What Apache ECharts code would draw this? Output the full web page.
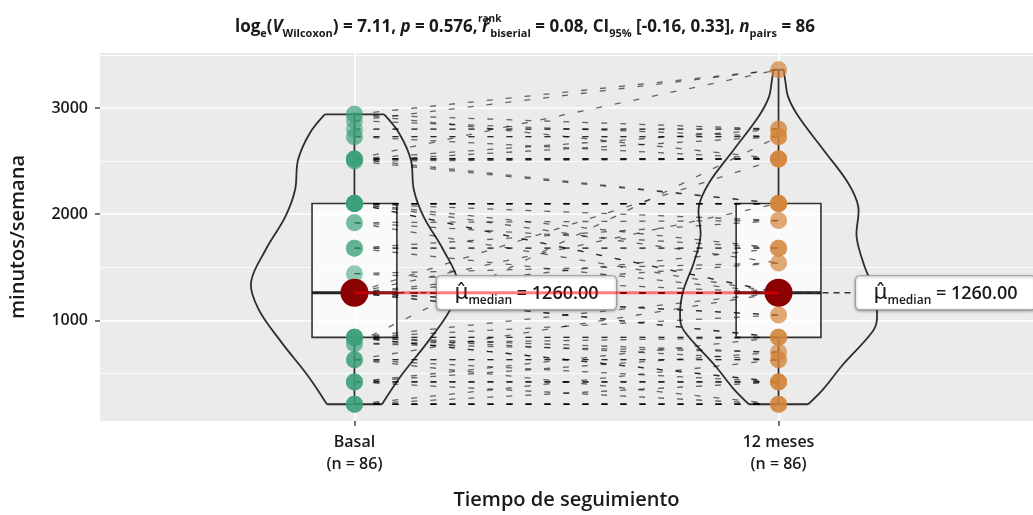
<!DOCTYPE html>
<html>
<head>
<meta charset="utf-8">
<script src="https://cdn.jsdelivr.net/npm/echarts@6/dist/echarts.min.js"></script>
<style>
html, body { margin: 0; padding: 0; background: #fff; }
#chart { width: 1033px; height: 515px; }
</style>
</head>
<body>
<div id="chart"></div>
<script>
var groups = ['Basal', '12 meses'];
var groupN = [86, 86];

// paired observations (minutos/semana), same order in both arrays
var basal = [
    210, 210, 210, 210, 210, 210,
    420, 420, 420, 420, 420, 420,
    630, 630, 630, 630, 630,
    780, 780, 780,
    840, 840, 840, 840, 840, 840, 840, 840,
    1260, 1260, 1260, 1260, 1260, 1260, 1260, 1260, 1260, 1260, 1260, 1260, 1260, 1260, 1260, 1260, 1260,
    1440, 1440,
    1680, 1680, 1680, 1680,
    1920, 1920, 1920,
    2100, 2100, 2100, 2100, 2100, 2100, 2100, 2100, 2100, 2100, 2100, 2100,
    2500, 2500, 2500,
    2520, 2520, 2520, 2520, 2520, 2520, 2520,
    2730, 2730, 2730,
    2800, 2800,
    2880, 2880,
    2940, 2940, 2940
];
var meses12 = [
    210, 210, 210, 210, 420, 630,
    420, 420, 420, 210, 700, 840,
    630, 630, 420, 1260, 210,
    700, 2730, 840,
    840, 840, 420, 420, 700, 1050, 630, 1260,
    1260, 1260, 1260, 1260, 1260, 1260, 1260, 1260, 1260, 840, 840, 1050, 1050, 1540, 1680, 2100, 2520,
    1260, 1540,
    1680, 1680, 1260, 1940,
    1940, 1260, 1680,
    2100, 2100, 2100, 2100, 2100, 2100, 2100, 1260, 1260, 1540, 1680, 1940,
    2520, 2100, 2730,
    2520, 2520, 2520, 2520, 2100, 3360, 2800,
    2730, 2730, 2520,
    2800, 2800,
    3360, 2730,
    2800, 3360, 2520
];

// violin outlines: [value, half width in x units]
var violinBasal = [
    [2940, 0.070], [2765, 0.105], [2512, 0.133], [2230, 0.140], [1977, 0.163],
    [1667, 0.209], [1357, 0.244], [1103, 0.226], [793, 0.172], [474, 0.109], [210, 0.065]
];
var violin12 = [
    [3360, 0.012], [3250, 0.016], [3100, 0.023], [2920, 0.047], [2600, 0.107],
    [2300, 0.163], [2070, 0.188], [1790, 0.184], [1540, 0.200], [1260, 0.226],
    [1010, 0.232], [890, 0.221], [570, 0.149], [350, 0.105], [210, 0.070]
];

var yTicks = [1000, 2000, 3000];
var yMinor = [500, 1500, 2500, 3500];
var xTicks = [1, 2];

var FONT = 'Open Sans';
var INK = '#1a1a1a';
var chart = echarts.init(document.getElementById('chart'));

function quantile(arr, p) {
    var s = arr.slice().sort(function(a, b) { return a - b; });
    var h = (s.length - 1) * p;
    var lo = Math.floor(h);
    var hi = Math.min(lo + 1, s.length - 1);
    return s[lo] + (h - lo) * (s[hi] - s[lo]);
}

function boxStats(arr) {
    var q1 = quantile(arr, 0.25), md = quantile(arr, 0.5), q3 = quantile(arr, 0.75);
    var iqr = q3 - q1;
    var lo = Math.min.apply(null, arr.filter(function(v) { return v >= q1 - 1.5 * iqr; }));
    var hi = Math.max.apply(null, arr.filter(function(v) { return v <= q3 + 1.5 * iqr; }));
    return [lo, q1, md, q3, hi];
}

var samples = [basal, meses12];
var violins = [violinBasal, violin12];
var stats = samples.map(boxStats);
var boxData = stats.map(function(s, i) { return [i + 1].concat(s); });
var medianData = stats.map(function(s, i) { return [i + 1, s[2]]; });
var pairData = basal.map(function(b, i) { return [1, b, 2, meses12[i]]; });

var lineSt = { stroke: '#2e2e2e', lineWidth: 1.8, fill: null };

function renderBox(params, api) {
    var x = api.value(0);
    var hw = 0.1;
    var pLo = api.coord([x, api.value(1)]);
    var pQ1 = api.coord([x - hw, api.value(2)]);
    var pMd = api.coord([x, api.value(3)]);
    var pQ3 = api.coord([x + hw, api.value(4)]);
    var pHi = api.coord([x, api.value(5)]);
    return {
        type: 'group',
        children: [
            { type: 'rect', shape: { x: pQ1[0], y: pQ3[1], width: pQ3[0] - pQ1[0], height: pQ1[1] - pQ3[1] },
              style: { fill: 'rgba(255,255,255,0.72)', stroke: '#333', lineWidth: 1.6 } },
            { type: 'line', shape: { x1: pLo[0], y1: pLo[1], x2: pLo[0], y2: pQ1[1] }, style: lineSt },
            { type: 'line', shape: { x1: pHi[0], y1: pHi[1], x2: pHi[0], y2: pQ3[1] }, style: lineSt },
            { type: 'line', shape: { x1: pQ1[0], y1: pMd[1], x2: pQ3[0], y2: pMd[1] }, style: { stroke: '#222', lineWidth: 3 } }
        ]
    };
}

function renderViolin(params, api) {
    var prof = violins[params.dataIndex];
    var cx = api.value(0);
    var left = prof.map(function(p) { return api.coord([cx - p[1], p[0]]); });
    var right = prof.map(function(p) { return api.coord([cx + p[1], p[0]]); });
    var n = prof.length - 1;
    return {
        type: 'group',
        children: [
            { type: 'polyline', shape: { points: left, smooth: 0.35 }, style: lineSt },
            { type: 'polyline', shape: { points: right, smooth: 0.35 }, style: lineSt },
            { type: 'line', shape: { x1: left[0][0], y1: left[0][1], x2: right[0][0], y2: right[0][1] }, style: lineSt },
            { type: 'line', shape: { x1: left[n][0], y1: left[n][1], x2: right[n][0], y2: right[n][1] }, style: lineSt }
        ]
    };
}

function renderPair(params, api) {
    var a = api.coord([api.value(0), api.value(1)]);
    var b = api.coord([api.value(2), api.value(3)]);
    return {
        type: 'line',
        shape: { x1: a[0], y1: a[1], x2: b[0], y2: b[1] },
        style: { stroke: 'rgba(0,0,0,0.58)', lineWidth: 1.3, lineDash: [6, 13] }
    };
}

var labelDx = [172, 167];
function renderLabel(params, api) {
    var i = params.dataIndex;
    var c = api.coord([api.value(0), api.value(1)]);
    var cx = c[0] + labelDx[i], cy = c[1];
    var w = 180, h = 34;
    return {
        type: 'group',
        children: [
            { type: 'line', shape: { x1: c[0], y1: cy, x2: cx - w / 2, y2: cy },
              style: { stroke: '#333', lineWidth: 1.5, lineDash: [6, 5] } },
            { type: 'rect', shape: { x: cx - w / 2, y: cy - h / 2, width: w, height: h, r: 4 },
              style: { fill: '#fff', stroke: '#9a9a9a', lineWidth: 1, shadowBlur: 3, shadowOffsetY: 1, shadowColor: 'rgba(0,0,0,0.35)' } },
            { type: 'text', x: cx, y: cy + 1,
              style: {
                  text: '{mu|\u03bc\u0302}{sub|median}{eq| = ' + api.value(1).toFixed(2) + '}',
                  align: 'center', verticalAlign: 'middle',
                  rich: {
                      mu: { fontFamily: 'DejaVu Sans', fontSize: 22, fill: INK, lineHeight: 26 },
                      sub: { fontFamily: FONT, fontSize: 12, fontWeight: 600, fill: INK, lineHeight: 12, verticalAlign: 'bottom' },
                      eq: { fontFamily: FONT, fontSize: 18, fontWeight: 600, fill: INK, lineHeight: 26 }
                  }
              } }
        ]
    };
}

var gridLines = [];
yTicks.forEach(function(v) { gridLines.push({ yAxis: v, lineStyle: { color: '#fff', width: 1.6, type: 'solid' } }); });
yMinor.forEach(function(v) { gridLines.push({ yAxis: v, lineStyle: { color: '#fff', width: 0.8, type: 'solid' } }); });
xTicks.forEach(function(v) { gridLines.push({ xAxis: v, lineStyle: { color: '#fff', width: 1.6, type: 'solid' } }); });

var titleText = '{n|log}{sub|e}{n|(}{i|V}{sub|Wilcoxon}{n|) = 7.11, }{i|p}{n| = 0.576, }' +
    '{i|r\u0302}{sup|rank}{sub|biserial}{n| = 0.08, CI}{sub|95%}{n| [-0.16, 0.33], }{i|n}{sub|pairs}{n| = 86}';

var option = {
    animation: false,
    textStyle: { fontFamily: FONT },
    grid: { left: 100, right: -12, top: 53, bottom: 94, show: true, backgroundColor: '#EBEBEB', borderWidth: 0 },
    graphic: [{
        type: 'text', x: 525, y: 27,
        style: {
            text: titleText, align: 'center', verticalAlign: 'middle',
            rich: {
                n: { fontFamily: FONT, fontSize: 17, fontWeight: 'bold', fill: INK, lineHeight: 25 },
                i: { fontFamily: FONT, fontSize: 17, fontWeight: 'bold', fontStyle: 'italic', fill: INK, lineHeight: 25 },
                sub: { fontFamily: FONT, fontSize: 11, fontWeight: 'bold', fill: INK, lineHeight: 11, verticalAlign: 'bottom' },
                sup: { fontFamily: FONT, fontSize: 10, fontWeight: 'bold', fill: INK, lineHeight: 10, verticalAlign: 'top', width: 1 }
            }
        }
    }],
    xAxis: {
        type: 'value', min: 0.4, max: 2.6,
        axisLine: { show: false },
        splitLine: { show: false },
        axisTick: { show: true, customValues: xTicks, length: 5, lineStyle: { color: '#444', width: 1.5 } },
        axisLabel: {
            customValues: xTicks, margin: 10, fontSize: 16, fontWeight: 600, color: INK, lineHeight: 22,
            formatter: function(v) { return groups[v - 1] + '\n(n = ' + groupN[v - 1] + ')'; }
        },
        name: 'Tiempo de seguimiento', nameLocation: 'middle', nameGap: 69,
        nameTextStyle: { fontSize: 20, fontWeight: 600, color: INK }
    },
    yAxis: {
        type: 'value', min: 52.5, max: 3517.5,
        axisLine: { show: false },
        splitLine: { show: false },
        axisTick: { show: true, customValues: yTicks, length: 5, lineStyle: { color: '#444', width: 1.5 } },
        axisLabel: {
            customValues: yTicks, margin: 12, fontSize: 16, fontWeight: 600, color: INK,
            formatter: function(v) { return String(v); }
        },
        name: 'minutos/semana', nameLocation: 'middle', nameGap: 72, nameRotate: 90,
        nameTextStyle: { fontSize: 20, fontWeight: 600, color: INK }
    },
    series: [
        {
            type: 'custom', name: 'box', renderItem: renderBox, data: boxData,
            encode: { x: 0, y: [1, 2, 3, 4, 5] }, silent: true,
            markLine: { silent: true, symbol: 'none', label: { show: false }, data: gridLines, z: 0 }
        },
        {
            type: 'custom', name: 'violin', renderItem: renderViolin, data: [[1], [2]],
            encode: { x: 0 }, silent: true
        },
        {
            type: 'scatter', name: groups[0], symbolSize: 17,
            data: basal.map(function(v) { return [1, v]; }),
            itemStyle: { color: 'rgba(60,160,120,0.33)', opacity: 1 }
        },
        {
            type: 'scatter', name: groups[1], symbolSize: 17,
            data: meses12.map(function(v) { return [2, v]; }),
            itemStyle: { color: 'rgba(214,134,60,0.33)', opacity: 1 }
        },
        {
            type: 'custom', name: 'pairs', renderItem: renderPair, data: pairData,
            encode: { x: [0, 2], y: [1, 3] }, silent: true
        },
        {
            type: 'line', name: 'median path', data: medianData, symbol: 'none',
            lineStyle: { color: 'rgba(255,0,0,0.5)', width: 3 }
        },
        {
            type: 'scatter', name: 'median', symbolSize: 28, data: medianData,
            itemStyle: { color: '#8B0000', opacity: 1 }
        },
        {
            type: 'custom', name: 'labels', renderItem: renderLabel, data: medianData,
            encode: { x: 0, y: 1 }, silent: true
        }
    ]
};

chart.setOption(option);
</script>
</body>
</html>
